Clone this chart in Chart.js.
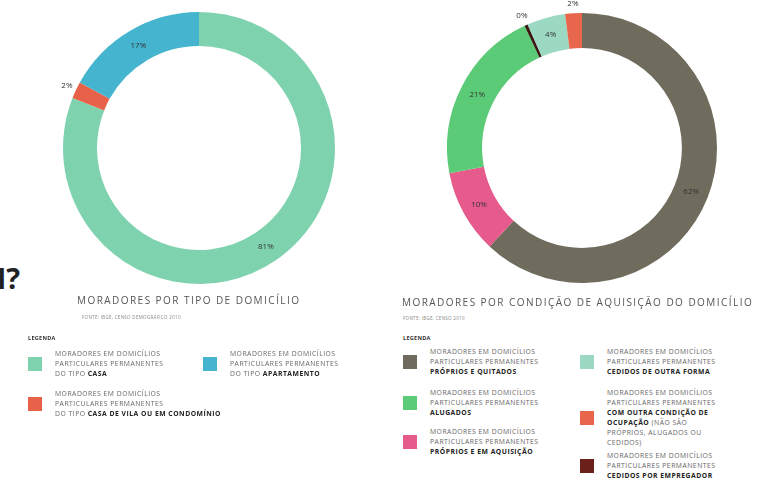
<!DOCTYPE html>
<html>
<head>
<meta charset="utf-8">
<script src="https://cdn.jsdelivr.net/npm/chart.js@4"></script>
<style>
  body { margin:0; width:779px; height:484px; background:#fff; overflow:hidden; position:relative; font-family:"Open Sans", sans-serif; }
  canvas { position:absolute; }
  .big { position:absolute; left:-21px; top:258px; font-size:29px; font-weight:700; color:#222; font-family:"Open Sans"; }
  .title { position:absolute; font-size:10px; letter-spacing:1.45px; color:#555; font-weight:400; white-space:nowrap; }
  .src { position:absolute; font-size:4.5px; color:#888; letter-spacing:0.3px; white-space:nowrap; }
  .leg-h { position:absolute; font-size:5.5px; font-weight:700; color:#333; letter-spacing:0.3px; }
  .item { position:absolute; display:flex; align-items:center; }
  .sw { width:14px; height:14px; margin-right:13px; flex:none; }
  .txt { font-size:6.8px; line-height:10px; color:#666; letter-spacing:0.5px; white-space:nowrap; }
  .txt b { color:#222; }
</style>
</head>
<body>
<div class="big">M?</div>
<canvas id="tipo" width="320" height="320" style="left:39px;top:-12px;width:320px;height:320px"></canvas>
<canvas id="cond" width="320" height="320" style="left:422px;top:-12px;width:320px;height:320px"></canvas>

<div class="title" style="left:77px;top:293px">MORADORES POR TIPO DE DOMICÍLIO</div>
<div class="src" style="left:82px;top:314px">FONTE: IBGE, CENSO DEMOGRÁFICO 2010</div>
<div class="leg-h" style="left:28px;top:334px">LEGENDA</div>
<div id="legTipo"></div>

<div class="title" style="left:402px;top:295px">MORADORES POR CONDIÇÃO DE AQUISIÇÃO DO DOMICÍLIO</div>
<div class="src" style="left:403px;top:315px">FONTE: IBGE, CENSO 2010</div>
<div class="leg-h" style="left:403px;top:334px">LEGENDA</div>
<div id="legCond"></div>

<script>
// left chart: moradores por tipo de domicílio
const tipoLabels = ["Casa", "Casa de vila ou em condomínio", "Apartamento"];
const tipoValues = [81, 2, 17];
const tipoText = ["81%", "2%", "17%"];
const tipoOutside = [false, true, false];
const tipoColors = ["#7fd2ae", "#e8624a", "#45b4cf"];

// right chart: condição de aquisição (drawing order, clockwise from top)
const condLabels = ["Próprios e quitados", "Próprios e em aquisição", "Alugados", "Cedidos por empregador", "Cedidos de outra forma", "Outra condição de ocupação"];
const condValues = [62, 10, 21, 0.4, 4.6, 2];
const condText = ["62%", "10%", "21%", "0%", "4%", "2%"];
const condOutside = [false, false, false, true, false, true];
const condColors = ["#6f6b5d", "#e65a8c", "#5ccb78", "#3b1a14", "#9bd9c3", "#e8674c"];

const pctPlugin = {
  id: "pct",
  afterDatasetsDraw(chart, args, opts) {
    const ctx = chart.ctx;
    const meta = chart.getDatasetMeta(0);
    ctx.save();
    ctx.font = "8px 'Open Sans'";
    ctx.fillStyle = "#333";
    ctx.textAlign = "center";
    ctx.textBaseline = "middle";
    meta.data.forEach((arc, i) => {
      const p = arc.getProps(["x", "y", "startAngle", "endAngle", "innerRadius", "outerRadius"], true);
      const a = (p.startAngle + p.endAngle) / 2;
      const r = opts.outside[i] ? p.outerRadius + 10 : (p.innerRadius + p.outerRadius) / 2;
      ctx.fillText(opts.text[i], p.x + Math.cos(a) * r, p.y + Math.sin(a) * r);
    });
    ctx.restore();
  }
};

function donut(id, labels, values, colors, text, outside, pad, cut) {
  new Chart(document.getElementById(id), {
    type: "doughnut",
    data: { labels, datasets: [{ data: values, backgroundColor: colors, borderWidth: 0 }] },
    options: {
      responsive: false,
      animation: false,
      cutout: cut,
      layout: { padding: pad },
      plugins: {
        legend: { display: false },
        tooltip: { enabled: false },
        pct: { text, outside }
      }
    },
    plugins: [pctPlugin]
  });
}

donut("tipo", tipoLabels, tipoValues, tipoColors, tipoText, tipoOutside, 24, "75%");
donut("cond", condLabels, condValues, condColors, condText, condOutside, 25, "74%");

// legends
const pre = "MORADORES EM DOMICÍLIOS<br>PARTICULARES PERMANENTES<br>";
const legTipo = [
  { c: "#7fd2ae", x: 28, y: 349, t: pre + "DO TIPO <b>CASA</b>" },
  { c: "#45b4cf", x: 203, y: 349, t: pre + "DO TIPO <b>APARTAMENTO</b>" },
  { c: "#e8624a", x: 28, y: 389, t: pre + "DO TIPO <b>CASA DE VILA OU EM CONDOMÍNIO</b>" }
];
const legCond = [
  { c: "#6f6b5d", x: 403, y: 347, t: pre + "<b>PRÓPRIOS E QUITADOS</b>" },
  { c: "#5ccb78", x: 403, y: 388, t: pre + "<b>ALUGADOS</b>" },
  { c: "#e65a8c", x: 403, y: 427, t: pre + "<b>PRÓPRIOS E EM AQUISIÇÃO</b>" },
  { c: "#9bd9c3", x: 580, y: 347, t: pre + "<b>CEDIDOS DE OUTRA FORMA</b>" },
  { c: "#e8674c", x: 580, y: 388, t: pre + "<b>COM OUTRA CONDIÇÃO DE<br>OCUPAÇÃO</b> (NÃO SÃO<br>PRÓPRIOS, ALUGADOS OU<br>CEDIDOS)" },
  { c: "#6b2119", x: 580, y: 451, t: pre + "<b>CEDIDOS POR EMPREGADOR</b>" }
];
function buildLegend(id, items) {
  const host = document.getElementById(id);
  items.forEach(it => {
    const d = document.createElement("div");
    d.className = "item";
    d.style.left = it.x + "px";
    d.style.top = it.y + "px";
    d.innerHTML = `<div class="sw" style="background:${it.c}"></div><div class="txt">${it.t}</div>`;
    host.appendChild(d);
  });
}
buildLegend("legTipo", legTipo);
buildLegend("legCond", legCond);
</script>
</body>
</html>
